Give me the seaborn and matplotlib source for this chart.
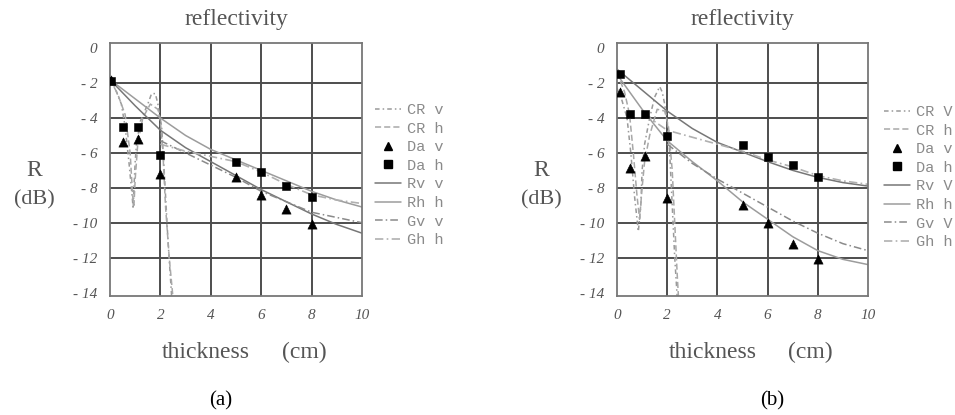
import numpy as np
import pandas as pd
import matplotlib
matplotlib.use("Agg")
import matplotlib.pyplot as plt
import seaborn as sns
from matplotlib.lines import Line2D

# ----------------------------------------------------------------------
# data (R in dB vs thickness in cm)
# ----------------------------------------------------------------------
x_ticks = [0, 2, 4, 6, 8, 10]
y_ticks = [0, -2, -4, -6, -8, -10, -12, -14]
y_tick_labels = ["0", "- 2", "- 4", "- 6", "- 8", "- 10", "- 12", "- 14"]

series_names = ["CR v", "CR h", "Da v", "Da h", "Rv v", "Rh h", "Gv v", "Gh h"]
series_names_b = ["CR V", "CR h", "Da v", "Da h", "Rv V", "Rh h", "Gv V", "Gh h"]

# panel (a) – measured points
thick_pts_a = [0.05, 0.5, 1.1, 2.0, 5.0, 6.0, 7.0, 8.0]
da_v_a = [-1.8, -5.4, -5.2, -7.2, -7.4, -8.4, -9.2, -10.1]
da_h_a = [-1.9, -4.5, -4.5, -6.1, -6.5, -7.1, -7.9, -8.5]

# panel (a) – model curves
cr_v_a_x = [0, 0.2, 0.45, 0.6, 0.75, 0.88, 0.92, 0.95, 1.0, 1.05, 1.2, 1.5, 1.65, 1.8, 1.9, 2.05, 2.15, 2.3, 2.45]
cr_v_a_y = [-1.8, -2.3, -3.2, -4.5, -6.5, -8.5, -9.2, -8.0, -6.5, -5.5, -4.2, -3.2, -2.6, -2.6, -3.2, -4.5, -7.0, -11.0, -14.3]
cr_h_a_x = [0, 0.3, 0.6, 0.8, 0.9, 0.95, 1.0, 1.1, 1.3, 1.6, 1.9, 2.0, 2.1, 2.2, 2.35, 2.5]
cr_h_a_y = [-1.8, -2.6, -3.8, -6.0, -8.5, -9.0, -7.5, -5.5, -4.0, -3.2, -3.5, -4.2, -6.0, -9.0, -12.0, -14.3]
smooth_x = [0, 1, 2, 3, 4, 5, 6, 7, 8, 9, 10]
rv_v_a = [-1.8, -3.3, -4.7, -5.7, -6.5, -7.3, -8.1, -8.8, -9.5, -10.1, -10.6]
rh_h_a = [-1.8, -2.9, -4.0, -5.0, -5.8, -6.4, -7.0, -7.6, -8.2, -8.7, -9.1]
g_x = [2, 3, 4, 5, 6, 7, 8, 9, 10]
gv_v_a = [-5.3, -6.0, -6.7, -7.4, -8.2, -8.8, -9.4, -9.7, -10.0]
gh_h_a = [-5.5, -5.9, -6.2, -6.5, -7.1, -7.8, -8.4, -8.7, -8.9]

# panel (b) – measured points
thick_pts_b = [0.1, 0.5, 1.1, 2.0, 5.0, 6.0, 7.0, 8.0]
da_v_b = [-2.5, -6.85, -6.15, -8.6, -9.0, -10.0, -11.2, -12.1]
da_h_b = [-1.5, -3.75, -3.75, -5.05, -5.55, -6.25, -6.7, -7.4]

# panel (b) – model curves
cr_v_b_x = [0, 0.2, 0.4, 0.55, 0.7, 0.85, 0.95, 1.0, 1.1, 1.3, 1.5, 1.7, 1.8, 1.9, 2.0, 2.1, 2.2, 2.3, 2.4]
cr_v_b_y = [-2.3, -3.0, -4.0, -6.0, -8.5, -10.5, -9.0, -7.0, -5.5, -4.0, -2.8, -2.2, -2.5, -3.2, -4.2, -6.0, -9.0, -12.0, -14.3]
cr_h_b_x = [0, 0.3, 0.5, 0.65, 0.8, 0.9, 1.0, 1.1, 1.3, 1.6, 1.9, 2.05, 2.2, 2.3, 2.4, 2.45]
cr_h_b_y = [-1.4, -2.5, -3.8, -6.0, -8.5, -9.8, -8.0, -6.5, -5.0, -3.5, -3.6, -4.5, -7.0, -10.0, -13.0, -14.3]
rv_v_b = [-1.2, -2.4, -3.6, -4.6, -5.4, -5.95, -6.5, -7.0, -7.4, -7.7, -7.9]
rh_h_b = [-1.5, -3.5, -5.3, -6.5, -7.6, -8.8, -9.8, -10.8, -11.6, -12.1, -12.4]
gv_x_b = [2, 3, 4, 5, 6, 7, 8, 9, 10]
gv_v_b = [-5.5, -6.6, -7.5, -8.3, -9.1, -9.9, -10.6, -11.2, -11.6]
gh_x_b = [1.1, 2, 3, 4, 5, 6, 7, 8, 9, 10]
gh_h_b = [-3.8, -4.7, -5.1, -5.5, -5.9, -6.4, -6.8, -7.3, -7.6, -7.8]

# ----------------------------------------------------------------------
# styling
# ----------------------------------------------------------------------
sns.set_style("white")
plt.rcParams['font.family'] = ['Liberation Serif', 'DejaVu Serif']

line_styles = {
    "CR v": dict(color="#9a9a9a", ls=(0, (3, 2, 1, 2)), lw=1.1),
    "CR h": dict(color="#a8a8a8", ls=(0, (4, 2)), lw=1.1),
    "Rv v": dict(color="#777777", ls="-", lw=1.1),
    "Rh h": dict(color="#9c9c9c", ls="-", lw=1.1),
    "Gv v": dict(color="#8a8a8a", ls=(0, (5, 2, 1, 2)), lw=1.1),
    "Gh h": dict(color="#b0b0b0", ls=(0, (5, 2, 1, 2)), lw=1.2),
}

W, H = 955, 415
fig = plt.figure(figsize=(W / 100, H / 100), dpi=100)


def fx(px):
    return px / W


def fy(py):
    return 1 - py / H


def draw_panel(left_px, right_px, curves, pts, labels, legend_px, letter):
    ax = fig.add_axes([fx(left_px), fy(296), fx(right_px - left_px), (296 - 43) / H])
    ax.set_xlim(0, 10)
    ax.set_ylim(-14.2, 0.3)

    for name, (cx, cy) in curves.items():
        st = line_styles[name]
        sns.lineplot(x=cx, y=cy, ax=ax, sort=False, estimator=None,
                     color=st["color"], lw=st["lw"], linestyle=st["ls"])

    tx, tv, th = pts
    sns.scatterplot(x=tx, y=tv, ax=ax, marker="^", s=44, color="black",
                    edgecolor="black", linewidth=0.4, zorder=5)
    sns.scatterplot(x=tx, y=th, ax=ax, marker="s", s=38, color="black",
                    edgecolor="black", linewidth=0.4, zorder=6)

    # grid
    for v in x_ticks[1:-1]:
        ax.axvline(v, color="#4d4d4d", lw=1.4, zorder=1)
    for v in y_ticks[1:-1]:
        ax.axhline(v, color="#4d4d4d", lw=1.4, zorder=1)
    for sp in ax.spines.values():
        sp.set_color("#777777")
        sp.set_linewidth(1.3)

    ax.set_xticks(x_ticks)
    ax.set_xticklabels([str(v) for v in x_ticks], fontstyle="italic",
                       fontsize=11, color="#555555")
    ax.set_yticks(y_ticks)
    ax.set_yticklabels(y_tick_labels, fontstyle="italic", fontsize=11, color="#555555")
    ax.tick_params(length=0, pad=9)
    ax.set_xlabel("")
    ax.set_ylabel("")

    # legend
    leg_handles = [
        Line2D([], [], **line_styles["CR v"]),
        Line2D([], [], **line_styles["CR h"]),
        Line2D([], [], marker="^", color="black", ls="none", markersize=6),
        Line2D([], [], marker="s", color="black", ls="none", markersize=5.5),
        Line2D([], [], **line_styles["Rv v"]),
        Line2D([], [], **line_styles["Rh h"]),
        Line2D([], [], **line_styles["Gv v"]),
        Line2D([], [], **line_styles["Gh h"]),
    ]
    leg = fig.legend(leg_handles, labels, loc="upper left",
                     bbox_to_anchor=(fx(legend_px[0]), fy(legend_px[1])),
                     frameon=False, handlelength=1.7, handletextpad=0.4,
                     labelspacing=0.3, borderaxespad=0, borderpad=0,
                     prop={"family": "Liberation Mono", "size": 11})
    for t in leg.get_texts():
        t.set_color("#8a8a8a")

    cx_px = (left_px + right_px) / 2
    fig.text(fx(cx_px), fy(20), "reflectivity", ha="center", va="center",
             fontsize=17, color="#555555")
    fig.text(fx(cx_px - 30), fy(352), "thickness", ha="center", va="center",
             fontsize=17, color="#555555")
    fig.text(fx(cx_px + 68), fy(352), "(cm)", ha="center", va="center",
             fontsize=17, color="#555555")
    fig.text(fx(left_px - 76), fy(170), "R", ha="center", va="center",
             fontsize=17, color="#555555")
    fig.text(fx(left_px - 76), fy(200), "(dB)", ha="center", va="center",
             fontsize=16, color="#555555")
    fig.text(fx(letter[1]), fy(401), letter[0], ha="center", va="center",
             fontsize=15, color="black")
    return ax


curves_a = {
    "CR v": (cr_v_a_x, cr_v_a_y),
    "CR h": (cr_h_a_x, cr_h_a_y),
    "Rv v": (smooth_x, rv_v_a),
    "Rh h": (smooth_x, rh_h_a),
    "Gv v": (g_x, gv_v_a),
    "Gh h": (g_x, gh_h_a),
}
curves_b = {
    "CR v": (cr_v_b_x, cr_v_b_y),
    "CR h": (cr_h_b_x, cr_h_b_y),
    "Rv v": (smooth_x, rv_v_b),
    "Rh h": (smooth_x, rh_h_b),
    "Gv v": (gv_x_b, gv_v_b),
    "Gh h": (gh_x_b, gh_h_b),
}

draw_panel(110, 362, curves_a, (thick_pts_a, da_v_a, da_h_a), series_names,
           (375, 103), ("(a)", 221))
draw_panel(617, 868, curves_b, (thick_pts_b, da_v_b, da_h_b), series_names_b,
           (884, 105), ("(b)", 772))

fig.savefig("out.png", dpi=100)
